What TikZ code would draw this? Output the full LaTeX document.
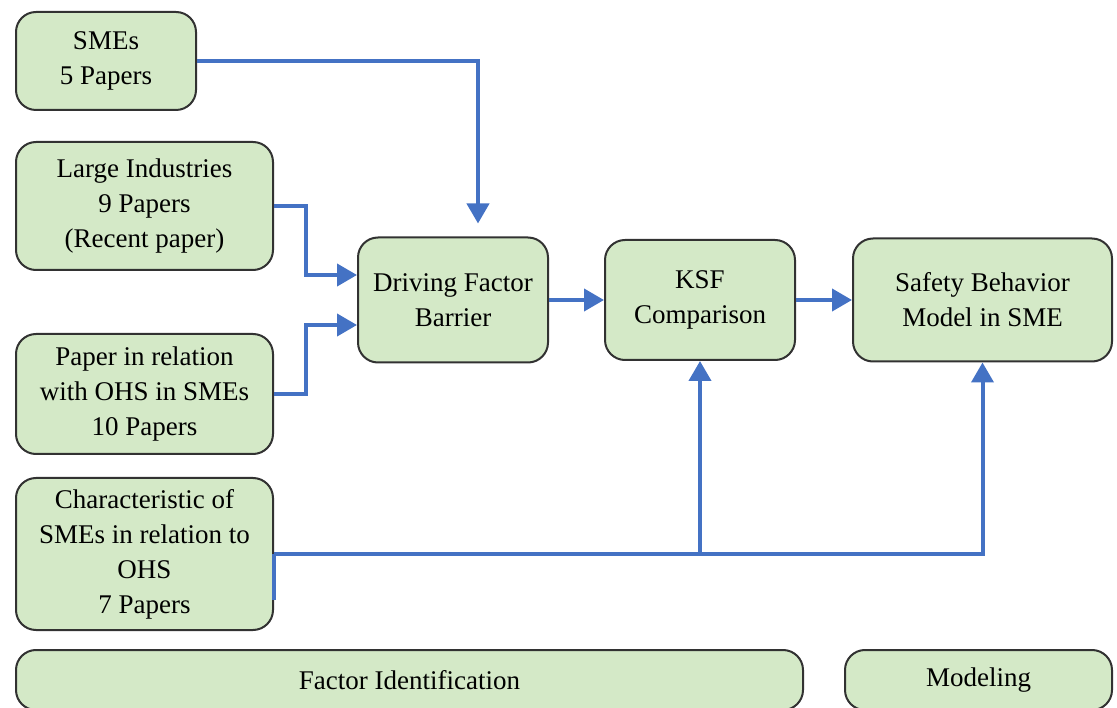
\documentclass[tikz,border=0pt]{standalone}
\usepackage{fontspec}
\setmainfont{Liberation Serif}
\usetikzlibrary{arrows.meta,calc}
\definecolor{boxfill}{RGB}{212,233,199}
\definecolor{boxline}{RGB}{50,50,50}
\definecolor{arrblue}{RGB}{68,114,196}
\tikzset{
  box/.style={draw=boxline, line width=2pt, fill=boxfill, rounded corners=20pt,
    inner sep=0pt, align=center, font=\fontsize{27}{35}\selectfont},
  arr/.style={draw=arrblue, line width=4pt, -{Triangle[length=20pt,width=22pt]}},
  ln/.style={draw=arrblue, line width=4pt}
}
\begin{document}
\begin{tikzpicture}[x=1pt,y=-1pt]
\useasboundingbox (0,0) rectangle (1117,708);
\node[box, minimum width=180pt, minimum height=98pt] (sme) at (106,61) {SMEs\\5 Papers};
\node[box, minimum width=257pt, minimum height=128pt] (li) at (144.5,206) {Large Industries\\9 Papers\\(Recent paper)};
\node[box, minimum width=257pt, minimum height=120pt] (pap) at (144.5,394) {Paper in relation\\with OHS in SMEs\\10 Papers};
\node[box, minimum width=257pt, minimum height=152pt] (ch) at (144.5,554) {Characteristic of\\SMEs in relation to\\OHS\\7 Papers};
\node[box, minimum width=190pt, minimum height=125pt] (dfb) at (453,300) {Driving Factor\\Barrier};
\node[box, minimum width=190pt, minimum height=120pt] (ksf) at (700,300) {KSF\\Comparison};
\node[box, minimum width=259pt, minimum height=123pt] (sb) at (982.5,300) {Safety Behavior\\Model in SME};
\node[box, minimum width=787pt, minimum height=60pt] (fi) at (409.5,680) {Factor Identification};
\node[box, minimum width=267pt, minimum height=60pt] (mod) at (978.5,680) {Modeling};

\draw[arr, shorten >=13pt] (sme.east) -| ([xshift=25pt]dfb.north);
\draw[arr] (li.east) -- ++(32,0) |- ([yshift=25pt]dfb.west);
\draw[arr] (pap.east) -- ++(32,0) |- ([yshift=-25pt]dfb.west);
\draw[arr] (dfb.east) -- (ksf.west);
\draw[arr] (ksf.east) -- (sb.west);
\coordinate (j) at (ksf.south |- ch.east);
\draw[ln] ([yshift=-46pt]ch.east) -- (ch.east);
\draw[arr] (ch.east) -| (sb.south);
\draw[arr] (j) -- (ksf.south);
\end{tikzpicture}
\end{document}
